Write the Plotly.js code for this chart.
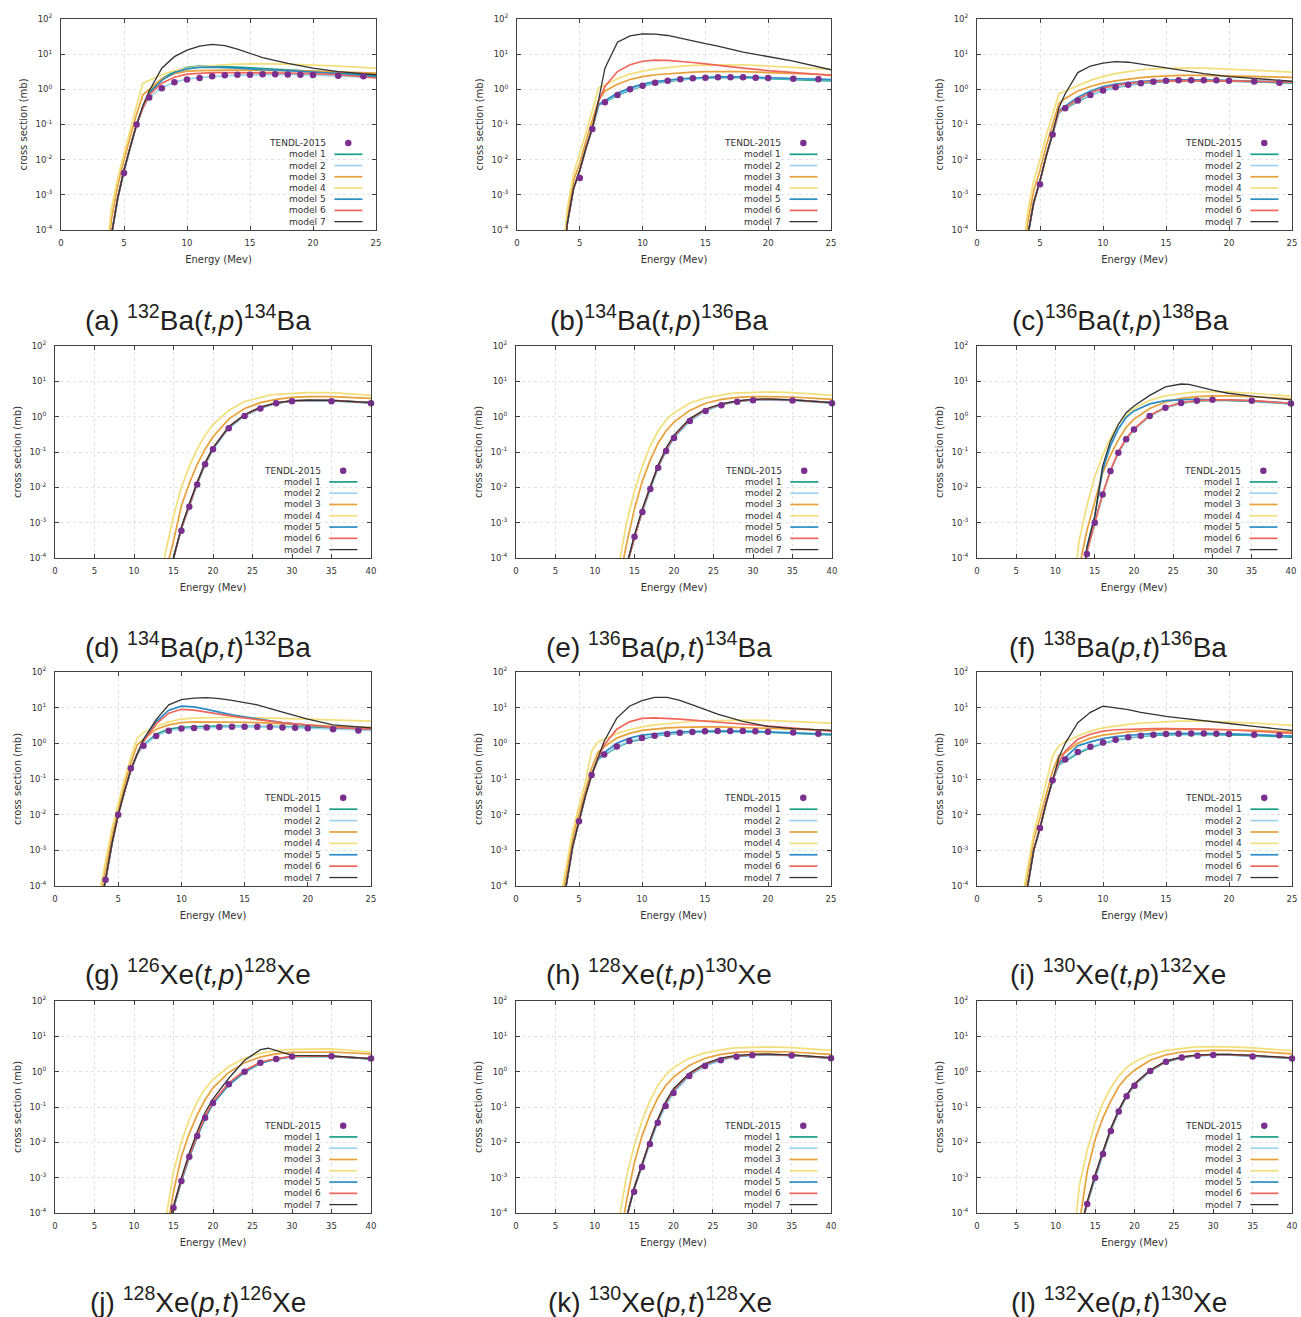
<!DOCTYPE html>
<html><head><meta charset="utf-8">
<script src="https://cdn.plot.ly/plotly-3.0.1.min.js"></script>
<style>html,body{margin:0;padding:0;background:#fff;}#chart{width:1301px;height:1317px;}</style>
</head><body><div id="chart"></div>
<script>
// ---------- shared grids / labels ----------
const E_TP = [3.5,4,4.5,5,5.5,6,6.5,7,8,9,10,11,12,13,14,15,16,18,20,22,25];
const E_PT = [12,13,14,15,16,17,18,19,20,22,24,26,27,28,30,32,35,40];
const TENDL_E_TP = [4,5,6,7,8,9,10,11,12,13,14,15,16,17,18,19,20,22,24];
const TENDL_E_PT = [14,15,16,17,18,19,20,22,24,26,28,30,35,40];
const SERIES_NAMES = ['TENDL-2015','model 1','model 2','model 3','model 4','model 5','model 6','model 7'];
const Y_TICK_VALUES = [1e-4,1e-3,1e-2,1e-1,1,10,100];
const Y_TICK_LABELS = ['10<sup>-4</sup>','10<sup>-3</sup>','10<sup>-2</sup>','10<sup>-1</sup>','10<sup>0</sup>','10<sup>1</sup>','10<sup>2</sup>'];
const X_TICKS_TP = [0,5,10,15,20,25];
const X_TICKS_PT = [0,5,10,15,20,25,30,35,40];
const CAPTIONS = [
 '(a) <sup>132</sup>Ba(<i>t,p</i>)<sup>134</sup>Ba',
 '(b)<sup>134</sup>Ba(<i>t,p</i>)<sup>136</sup>Ba',
 '(c)<sup>136</sup>Ba(<i>t,p</i>)<sup>138</sup>Ba',
 '(d) <sup>134</sup>Ba(<i>p,t</i>)<sup>132</sup>Ba',
 '(e) <sup>136</sup>Ba(<i>p,t</i>)<sup>134</sup>Ba',
 '(f) <sup>138</sup>Ba(<i>p,t</i>)<sup>136</sup>Ba',
 '(g) <sup>126</sup>Xe(<i>t,p</i>)<sup>128</sup>Xe',
 '(h) <sup>128</sup>Xe(<i>t,p</i>)<sup>130</sup>Xe',
 '(i) <sup>130</sup>Xe(<i>t,p</i>)<sup>132</sup>Xe',
 '(j) <sup>128</sup>Xe(<i>p,t</i>)<sup>126</sup>Xe',
 '(k) <sup>130</sup>Xe(<i>p,t</i>)<sup>128</sup>Xe',
 '(l) <sup>132</sup>Xe(<i>p,t</i>)<sup>130</sup>Xe'
];

// ---------- (a) 132Ba(t,p)134Ba ----------
const a_m1 = [1e-6,7e-5,8e-4,5e-3,2.3e-2,0.1,0.3,0.8,2.0,3.2,4.2,4.6,4.6,4.5,4.3,4.1,3.9,3.6,3.3,3.0,2.4];
const a_m2 = [1e-6,7e-5,8e-4,4.5e-3,2.2e-2,0.1,0.28,0.6,1.1,1.6,1.95,2.15,2.35,2.45,2.55,2.6,2.65,2.65,2.55,2.45,2.2];
const a_m3 = [5e-6,2e-4,1.8e-3,1e-2,4.5e-2,0.2,0.7,1.0,2.0,2.8,3.3,3.4,3.5,3.5,3.5,3.5,3.5,3.4,3.3,3.1,2.9];
const a_m4 = [1e-5,4e-4,3e-3,1.5e-2,7e-2,0.35,1.5,1.8,2.6,3.4,4.0,4.4,4.8,5.0,5.2,5.3,5.3,5.2,5.0,4.6,4.0];
const a_m5 = [1e-6,7e-5,8e-4,5e-3,2.3e-2,0.1,0.3,0.75,1.8,3.0,3.8,4.2,4.3,4.2,4.0,3.8,3.6,3.4,3.1,2.8,2.3];
const a_m6 = [1e-6,7e-5,8e-4,5e-3,2.3e-2,0.1,0.3,0.7,1.5,2.2,2.7,2.9,3.0,3.0,3.0,3.0,3.0,2.9,2.8,2.6,2.1];
const a_m7 = [1e-6,7e-5,8e-4,5e-3,2.3e-2,0.1,0.35,0.9,4.0,8.5,13,17,19,17.5,14,10.5,8,5.5,4.0,3.2,2.6];
const a_tendl = [null,4.2e-3,0.1,0.59,1.07,1.58,1.9,2.1,2.35,2.5,2.6,2.6,2.67,2.7,2.65,2.6,2.55,2.45,2.35];

// ---------- (b) 134Ba(t,p)136Ba ----------
const b_m1 = [1e-6,1.5e-4,1.5e-3,5e-3,2.2e-2,0.08,0.35,0.43,0.68,0.95,1.25,1.5,1.7,1.85,2.0,2.1,2.15,2.15,2.05,1.95,1.75];
const b_m2 = [1e-6,1.5e-4,1.5e-3,5e-3,2.2e-2,0.08,0.36,0.45,0.72,1.0,1.3,1.55,1.75,1.9,2.05,2.15,2.2,2.2,2.1,2.0,1.85];
const b_m3 = [3e-6,2.5e-4,2.5e-3,8e-3,3.5e-2,0.13,0.5,0.9,1.4,1.9,2.3,2.6,2.8,3.0,3.1,3.2,3.2,3.2,3.0,2.8,2.6];
const b_m4 = [6e-6,4e-4,4e-3,1.5e-2,6e-2,0.25,1.1,1.3,2.0,2.7,3.3,3.8,4.2,4.5,4.8,4.9,5.0,5.0,4.6,4.2,3.7];
const b_m5 = [1e-6,1.5e-4,1.5e-3,5e-3,2.2e-2,0.08,0.37,0.48,0.78,1.1,1.4,1.65,1.85,2.0,2.1,2.2,2.25,2.25,2.15,2.05,1.9];
const b_m6 = [1e-6,1.5e-4,1.5e-3,5e-3,2.2e-2,0.08,0.45,1.2,3.2,5.0,6.3,6.8,6.7,6.3,5.8,5.3,4.9,4.0,3.4,3.0,2.5];
const b_m7 = [1e-6,1.5e-4,1.5e-3,5e-3,2.2e-2,0.08,0.5,4.0,22,33,38,37,34,28,24,20,17,11.5,8.5,6.3,3.6];
const b_tendl = [null,3e-3,0.075,0.43,0.69,1.0,1.27,1.55,1.76,1.92,2.05,2.15,2.2,2.2,2.2,2.15,2.1,2.0,1.92];

// ---------- (c) 136Ba(t,p)138Ba ----------
const c_m1 = [1e-6,6e-5,6e-4,2.5e-3,1.3e-2,0.055,0.22,0.28,0.45,0.68,0.92,1.12,1.32,1.48,1.6,1.68,1.72,1.72,1.7,1.62,1.5];
const c_m2 = [1e-6,6e-5,6e-4,2.5e-3,1.3e-2,0.055,0.23,0.29,0.48,0.69,0.92,1.14,1.36,1.5,1.65,1.76,1.8,1.8,1.76,1.68,1.55];
const c_m3 = [3e-6,1.5e-4,1.3e-3,5e-3,2.5e-2,0.1,0.4,0.55,0.9,1.2,1.5,1.75,1.95,2.15,2.3,2.4,2.5,2.5,2.4,2.3,2.2];
const c_m4 = [5e-6,3e-4,2.5e-3,1e-2,5e-2,0.2,0.75,0.9,1.3,1.8,2.3,2.8,3.2,3.6,3.8,3.9,4.0,4.0,3.7,3.5,3.1];
const c_m5 = [1e-6,6e-5,6e-4,2.5e-3,1.3e-2,0.055,0.25,0.33,0.6,0.9,1.2,1.42,1.58,1.7,1.78,1.82,1.85,1.85,1.8,1.72,1.6];
const c_m6 = [1e-6,6e-5,6e-4,2.5e-3,1.3e-2,0.055,0.24,0.3,0.52,0.8,1.08,1.3,1.48,1.6,1.7,1.75,1.78,1.78,1.75,1.68,1.6];
const c_m7 = [1e-6,6e-5,6e-4,2.5e-3,1.3e-2,0.055,0.3,0.75,3.0,4.6,5.6,6.1,5.9,5.2,4.6,4.0,3.5,2.8,2.3,2.0,1.7];
const c_tendl = [null,2e-3,0.052,0.29,0.48,0.69,0.92,1.14,1.36,1.5,1.65,1.76,1.8,1.8,1.8,1.8,1.76,1.68,1.55];

// ---------- (d) 134Ba(p,t)132Ba ----------
const d_m1 = [1e-7,1e-6,1e-5,1e-4,7e-4,3.2e-3,1.3e-2,4.5e-2,0.12,0.5,1.1,1.8,2.1,2.4,2.75,2.85,2.85,2.45];
const d_m2 = [1e-7,1e-6,1e-5,1e-4,6.5e-4,3e-3,1.2e-2,4.5e-2,0.12,0.47,1.04,1.7,2.05,2.4,2.75,2.8,2.75,2.4];
const d_m3 = [1e-7,2e-6,4e-5,3e-4,3e-3,1.3e-2,4.5e-2,0.12,0.27,0.85,1.7,2.5,2.8,3.1,3.5,3.7,3.7,3.3];
const d_m4 = [1e-6,1e-5,1.5e-4,1.5e-3,1e-2,4e-2,0.12,0.3,0.6,1.5,2.7,3.6,4.0,4.3,4.6,4.8,4.8,4.0];
const d_m5 = [1e-7,1e-6,1e-5,1e-4,7e-4,3.2e-3,1.3e-2,4.6e-2,0.125,0.5,1.1,1.8,2.1,2.4,2.8,2.9,2.9,2.5];
const d_m6 = [1e-7,1e-6,1e-5,1e-4,7e-4,3.3e-3,1.35e-2,4.7e-2,0.13,0.52,1.12,1.82,2.15,2.45,2.8,2.9,2.9,2.5];
const d_m7 = [1e-7,1e-6,1e-5,1e-4,7.5e-4,3.5e-3,1.4e-2,5e-2,0.13,0.52,1.15,1.85,2.15,2.45,2.85,2.95,2.9,2.5];
const d_tendl = [null,null,5.9e-4,2.8e-3,1.2e-2,4.5e-2,0.12,0.47,1.04,1.7,2.4,2.75,2.75,2.4];

// ---------- (e) 136Ba(p,t)134Ba ----------
const e_m1 = [1e-7,5e-6,6e-5,4e-4,2.2e-3,1e-2,3.8e-2,0.11,0.26,0.8,1.55,2.2,2.45,2.7,3.0,3.05,2.95,2.45];
const e_m2 = [1e-7,5e-6,6e-5,4e-4,2.0e-3,9e-3,3.6e-2,0.107,0.25,0.75,1.45,2.1,2.4,2.65,2.9,2.95,2.85,2.4];
const e_m3 = [1e-7,2e-5,2.5e-4,2.5e-3,1.5e-2,6e-2,0.18,0.4,0.7,1.5,2.4,3.1,3.3,3.5,3.7,3.7,3.6,3.1];
const e_m4 = [1e-6,6e-5,1e-3,8e-3,4e-2,0.15,0.4,0.8,1.3,2.4,3.4,4.2,4.5,4.7,4.9,5.0,4.8,4.0];
const e_m5 = [1e-7,5e-6,6e-5,4e-4,2.2e-3,1e-2,3.9e-2,0.115,0.27,0.82,1.58,2.25,2.5,2.75,3.05,3.1,3.0,2.5];
const e_m6 = [1e-7,5e-6,6e-5,4e-4,2.3e-3,1.05e-2,4e-2,0.12,0.28,0.84,1.6,2.25,2.5,2.75,3.05,3.1,3.0,2.5];
const e_m7 = [1e-7,5e-6,6e-5,4.5e-4,2.5e-3,1.1e-2,4.3e-2,0.13,0.3,0.88,1.65,2.3,2.55,2.8,3.1,3.15,3.0,2.5];
const e_tendl = [null,4e-4,2e-3,9e-3,3.6e-2,0.107,0.25,0.75,1.45,2.1,2.65,2.9,2.85,2.4];

// ---------- (f) 138Ba(p,t)136Ba ----------
const f_m1 = [1e-7,1e-6,1.5e-4,1e-3,6.3e-3,2.9e-2,9.5e-2,0.23,0.43,1.05,1.8,2.4,2.6,2.75,2.9,2.9,2.75,2.3];
const f_m2 = [1e-7,1e-6,1.5e-4,1e-3,6.3e-3,2.9e-2,9.5e-2,0.23,0.43,1.05,1.8,2.45,2.65,2.8,3.0,3.0,2.8,2.35];
const f_m3 = [1e-6,5e-5,6e-4,4e-3,2.5e-2,8e-2,0.22,0.5,0.85,1.7,2.6,3.3,3.5,3.7,3.9,3.9,3.7,3.2];
const f_m4 = [3e-6,3e-4,3e-3,2e-2,8e-2,0.25,0.6,1.1,1.7,2.9,3.9,4.6,4.8,5.0,5.1,5.0,4.6,3.8];
const f_m5 = [1e-7,2e-6,2e-4,1.5e-3,3e-2,0.15,0.45,0.95,1.45,2.3,2.85,3.05,3.1,3.1,3.0,2.95,2.8,2.4];
const f_m6 = [1e-7,1e-6,1.5e-4,1e-3,6.5e-3,3e-2,0.1,0.24,0.45,1.08,1.85,2.5,2.7,2.85,3.0,3.0,2.85,2.4];
const f_m7 = [1e-7,2e-6,2e-4,1.5e-3,4e-2,0.2,0.6,1.3,2.0,4.0,7.0,8.4,8.2,7.2,5.6,4.6,3.8,3.0];
const f_tendl = [1.3e-4,1e-3,6.3e-3,2.9e-2,0.095,0.23,0.43,1.05,1.8,2.45,2.8,3.0,2.8,2.35];

// ---------- (g) 126Xe(t,p)128Xe ----------
const g_m1 = [2e-5,1.5e-4,1.5e-3,1e-2,4.5e-2,0.18,0.5,0.9,1.8,2.5,2.8,2.95,3.0,3.05,3.05,3.05,3.0,2.95,2.8,2.6,2.4];
const g_m2 = [2e-5,1.5e-4,1.5e-3,1e-2,4.5e-2,0.18,0.48,0.85,1.6,2.25,2.6,2.7,2.8,2.85,2.9,2.9,2.9,2.85,2.65,2.5,2.3];
const g_m3 = [4e-5,3e-4,2.5e-3,1.4e-2,7e-2,0.28,0.9,1.3,2.5,3.3,3.8,4.0,4.0,4.0,3.9,3.9,3.8,3.6,3.3,3.0,2.8];
const g_m4 = [6e-5,5e-4,4e-3,2e-2,0.1,0.4,1.4,2.0,3.0,4.0,4.8,5.1,5.3,5.3,5.3,5.3,5.2,5.0,4.8,4.5,4.2];
const g_m5 = [2e-5,1.5e-4,1.5e-3,1e-2,4.5e-2,0.18,0.5,1.2,4.0,8.5,11,10.5,9,7.5,6.3,5.5,4.8,3.8,3.2,2.8,2.5];
const g_m6 = [2e-5,1.5e-4,1.5e-3,1e-2,4.5e-2,0.18,0.5,1.1,3.5,7.0,9.0,8.5,7.5,6.5,5.8,5.2,4.6,3.8,3.2,2.8,2.5];
const g_m7 = [2e-5,1.5e-4,1.5e-3,1e-2,4.5e-2,0.18,0.5,1.3,4.6,12,16.7,18.5,19,18,16,14,12,7.5,4.8,3.3,2.7];
const g_tendl = [1.5e-4,1.0e-2,0.2,0.85,1.6,2.25,2.6,2.7,2.8,2.85,2.9,2.9,2.9,2.85,2.8,2.75,2.65,2.5,2.3];

// ---------- (h) 128Xe(t,p)130Xe ----------
const h_m1 = [1e-5,1.3e-4,1.3e-3,6.5e-3,3.3e-2,0.13,0.35,0.47,0.78,1.1,1.35,1.6,1.8,1.95,2.05,2.12,2.15,2.12,2.05,1.92,1.72];
const h_m2 = [1e-5,1.3e-4,1.3e-3,6.5e-3,3.3e-2,0.13,0.36,0.49,0.81,1.16,1.4,1.64,1.83,1.99,2.08,2.17,2.2,2.2,2.12,2.0,1.8];
const h_m3 = [2.5e-5,2.5e-4,2.2e-3,1.1e-2,5e-2,0.2,0.55,0.8,1.4,1.9,2.3,2.5,2.7,2.8,2.9,2.9,2.9,2.8,2.7,2.5,2.3];
const h_m4 = [4e-5,4e-4,3.5e-3,1.8e-2,8e-2,0.6,1.1,1.3,1.9,2.4,2.9,3.3,3.6,3.9,4.1,4.3,4.4,4.5,4.4,4.1,3.7];
const h_m5 = [1e-5,1.3e-4,1.3e-3,6.5e-3,3.3e-2,0.13,0.37,0.55,1.0,1.4,1.7,1.85,2.0,2.1,2.15,2.2,2.2,2.2,2.1,2.0,1.8];
const h_m6 = [1e-5,1.3e-4,1.3e-3,6.5e-3,3.3e-2,0.13,0.38,0.9,2.5,4.0,5.0,5.2,5.1,4.8,4.5,4.2,3.9,3.4,3.0,2.6,2.2];
const h_m7 = [1e-5,1.3e-4,1.3e-3,6.5e-3,3.3e-2,0.13,0.4,1.15,5.1,11,15.7,19.5,19.5,16,12,8.8,6.6,4.1,3.0,2.6,2.3];
const h_tendl = [null,6.5e-3,0.13,0.49,0.81,1.16,1.4,1.64,1.83,1.99,2.08,2.17,2.2,2.2,2.2,2.17,2.12,2.0,1.87];

// ---------- (i) 130Xe(t,p)132Xe ----------
const i_m1 = [8e-6,1e-4,1e-3,4.2e-3,2.2e-2,0.092,0.25,0.32,0.52,0.75,1.0,1.22,1.42,1.58,1.68,1.75,1.78,1.78,1.74,1.66,1.5];
const i_m2 = [8e-6,1e-4,1e-3,4.2e-3,2.2e-2,0.092,0.26,0.34,0.57,0.8,1.05,1.27,1.47,1.64,1.75,1.83,1.87,1.88,1.83,1.75,1.6];
const i_m3 = [2e-5,2e-4,2e-3,8e-3,4e-2,0.17,0.45,0.55,1.0,1.4,1.7,1.9,2.1,2.25,2.4,2.45,2.5,2.5,2.4,2.3,2.1];
const i_m4 = [3e-5,3e-4,3e-3,1.5e-2,8e-2,0.45,0.85,1.1,1.6,2.2,2.7,3.1,3.4,3.7,3.9,4.1,4.2,4.2,4.0,3.7,3.2];
const i_m5 = [8e-6,1e-4,1e-3,4.2e-3,2.2e-2,0.092,0.27,0.4,0.85,1.1,1.35,1.55,1.7,1.8,1.87,1.9,1.9,1.9,1.85,1.75,1.6];
const i_m6 = [8e-6,1e-4,1e-3,4.2e-3,2.2e-2,0.092,0.3,0.6,1.3,1.8,2.2,2.4,2.5,2.55,2.6,2.6,2.6,2.5,2.4,2.2,1.9];
const i_m7 = [8e-6,1e-4,1e-3,4.2e-3,2.2e-2,0.092,0.4,1.0,3.8,7.4,11,9.8,8.8,7.4,6.4,5.7,5.2,4.4,3.6,3.0,2.3];
const i_tendl = [null,4.2e-3,0.092,0.355,0.57,0.8,1.05,1.27,1.47,1.64,1.75,1.83,1.87,1.9,1.88,1.87,1.83,1.75,1.68];

// ---------- (j) 128Xe(p,t)126Xe ----------
const j_m1 = [1e-7,1e-6,3e-5,1.4e-4,8e-4,3.9e-3,1.5e-2,5e-2,0.13,0.44,1.0,1.75,2.0,2.25,2.65,2.75,2.7,2.3];
const j_m2 = [1e-7,1e-6,3e-5,1.4e-4,8e-4,3.9e-3,1.5e-2,5e-2,0.13,0.44,1.0,1.8,2.05,2.3,2.7,2.8,2.75,2.35];
const j_m3 = [1e-7,1e-6,2e-5,4e-4,4e-3,1.8e-2,6e-2,0.16,0.35,0.95,1.8,2.6,2.9,3.2,3.5,3.6,3.6,3.2];
const j_m4 = [1e-7,3e-6,6e-5,1.5e-3,1e-2,4.5e-2,0.14,0.33,0.6,1.4,2.4,3.3,3.7,4.0,4.3,4.4,4.4,3.6];
const j_m5 = [1e-7,1e-6,3e-5,1.4e-4,8e-4,3.8e-3,1.45e-2,4.8e-2,0.125,0.42,0.98,1.75,2.0,2.25,2.65,2.75,2.7,2.3];
const j_m6 = [1e-7,1e-6,3e-5,1.5e-4,9e-4,4.2e-3,1.6e-2,5.5e-2,0.14,0.48,1.08,1.85,2.1,2.35,2.7,2.8,2.75,2.35];
const j_m7 = [1e-7,1e-6,3e-5,1.5e-4,1e-3,5e-3,2e-2,7e-2,0.17,0.65,2.1,4.2,4.6,4.0,2.9,2.85,2.8,2.35];
const j_tendl = [null,1.4e-4,8e-4,3.9e-3,1.5e-2,0.05,0.13,0.44,1.0,1.8,2.3,2.7,2.75,2.35];

// ---------- (k) 130Xe(p,t)128Xe ----------
const k_m1 = [1e-7,3e-6,7e-5,5e-4,2.3e-3,1e-2,4e-2,0.12,0.28,0.8,1.55,2.2,2.45,2.7,3.0,3.05,2.9,2.4];
const k_m2 = [1e-7,3e-6,7e-5,4.5e-4,2.1e-3,9e-3,3.6e-2,0.107,0.25,0.75,1.45,2.1,2.4,2.65,2.9,2.95,2.85,2.4];
const k_m3 = [1e-7,1e-5,2e-4,2.5e-3,1.5e-2,6e-2,0.18,0.4,0.7,1.5,2.4,3.1,3.3,3.5,3.7,3.7,3.6,3.1];
const k_m4 = [1e-6,5e-5,1e-3,8e-3,4e-2,0.15,0.4,0.8,1.3,2.4,3.4,4.2,4.5,4.7,4.9,5.0,4.8,4.0];
const k_m5 = [1e-7,3e-6,7e-5,5e-4,2.4e-3,1.05e-2,4.1e-2,0.125,0.29,0.82,1.58,2.22,2.48,2.72,3.0,3.05,2.9,2.4];
const k_m6 = [1e-7,3e-6,7e-5,5e-4,2.5e-3,1.1e-2,4.3e-2,0.13,0.3,0.85,1.62,2.28,2.52,2.78,3.05,3.1,2.95,2.45];
const k_m7 = [1e-7,3e-6,7e-5,5e-4,2.5e-3,1.1e-2,4.5e-2,0.14,0.33,0.9,1.7,2.4,2.65,2.9,3.1,3.15,3.0,2.5];
const k_tendl = [null,4e-4,2e-3,9e-3,3.6e-2,0.107,0.25,0.75,1.45,2.1,2.65,2.9,2.85,2.4];

// ---------- (l) 132Xe(p,t)130Xe ----------
const l_m1 = [1e-7,2.5e-5,2e-4,1.1e-3,5e-3,2.2e-2,7.5e-2,0.2,0.42,1.05,1.9,2.5,2.7,2.85,3.0,3.0,2.8,2.4];
const l_m2 = [1e-7,2.5e-5,1.8e-4,1e-3,4.7e-3,2.1e-2,7.4e-2,0.2,0.4,1.04,1.9,2.5,2.65,2.8,2.95,2.95,2.7,2.35];
const l_m3 = [1e-6,5e-5,1.5e-3,1.2e-2,5e-2,0.15,0.38,0.7,1.1,2.1,3.0,3.6,3.75,3.9,4.0,4.0,3.8,3.2];
const l_m4 = [4e-6,6e-4,6e-3,3.5e-2,0.13,0.35,0.75,1.3,1.9,3.0,4.0,4.6,4.8,5.0,5.1,5.0,4.7,3.9];
const l_m5 = [1e-7,2.5e-5,2e-4,1.1e-3,5.2e-3,2.3e-2,7.7e-2,0.21,0.43,1.07,1.92,2.52,2.72,2.88,3.02,3.02,2.8,2.4];
const l_m6 = [1e-7,2.5e-5,2e-4,1.15e-3,5.4e-3,2.4e-2,8e-2,0.21,0.44,1.1,1.95,2.55,2.75,2.9,3.05,3.05,2.85,2.45];
const l_m7 = [1e-7,2.5e-5,2.1e-4,1.2e-3,5.6e-3,2.5e-2,8.3e-2,0.22,0.46,1.12,2.0,2.6,2.8,2.95,3.1,3.1,2.9,2.45];
const l_tendl = [1.8e-4,1e-3,4.7e-3,2.1e-2,7.4e-2,0.2,0.4,1.04,1.9,2.5,2.8,2.95,2.7,2.35];

// ---------- styling & layout (not data) ----------
const W = 1301, H = 1317;
const MODEL_COLORS = ['#1a9e86','#9dd3f0','#e8a038','#f3df7a','#2b8cc4','#f0665a','#333333'];
const TENDL_COLOR = '#7a2e8e';
const TXT = '#333333';
const PANELS = [
 {kind:'tp', px:[61,376],  py:[19,230],   cap:[198,318],  s:[a_m1,a_m2,a_m3,a_m4,a_m5,a_m6,a_m7], t:a_tendl},
 {kind:'tp', px:[517,831], py:[19,230],   cap:[659,318],  s:[b_m1,b_m2,b_m3,b_m4,b_m5,b_m6,b_m7], t:b_tendl},
 {kind:'tp', px:[977,1292],py:[19,230],   cap:[1120,318], s:[c_m1,c_m2,c_m3,c_m4,c_m5,c_m6,c_m7], t:c_tendl},
 {kind:'pt', px:[55,371],  py:[346,558],  cap:[198,645],  s:[d_m1,d_m2,d_m3,d_m4,d_m5,d_m6,d_m7], t:d_tendl},
 {kind:'pt', px:[516,832], py:[346,558],  cap:[659,645],  s:[e_m1,e_m2,e_m3,e_m4,e_m5,e_m6,e_m7], t:e_tendl},
 {kind:'pt', px:[977,1291],py:[346,558],  cap:[1118,645], s:[f_m1,f_m2,f_m3,f_m4,f_m5,f_m6,f_m7], t:f_tendl},
 {kind:'tp', px:[55,371],  py:[672,886],  cap:[198,972],  s:[g_m1,g_m2,g_m3,g_m4,g_m5,g_m6,g_m7], t:g_tendl},
 {kind:'tp', px:[516,831], py:[672,886],  cap:[659,972],  s:[h_m1,h_m2,h_m3,h_m4,h_m5,h_m6,h_m7], t:h_tendl},
 {kind:'tp', px:[977,1292],py:[672,886],  cap:[1118,972], s:[i_m1,i_m2,i_m3,i_m4,i_m5,i_m6,i_m7], t:i_tendl},
 {kind:'pt', px:[55,371],  py:[1001,1213],cap:[198,1300], s:[j_m1,j_m2,j_m3,j_m4,j_m5,j_m6,j_m7], t:j_tendl},
 {kind:'pt', px:[516,831], py:[1001,1213],cap:[660,1300], s:[k_m1,k_m2,k_m3,k_m4,k_m5,k_m6,k_m7], t:k_tendl},
 {kind:'pt', px:[977,1292],py:[1001,1213],cap:[1119,1300],s:[l_m1,l_m2,l_m3,l_m4,l_m5,l_m6,l_m7], t:l_tendl}
];

const traces = [];
const layout = {
  width: W, height: H, margin: {l:0, r:0, t:0, b:0},
  paper_bgcolor: '#ffffff', plot_bgcolor: '#ffffff', showlegend: false,
  font: {family: 'DejaVu Sans, sans-serif', size: 9, color: TXT},
  annotations: [], shapes: []
};

PANELS.forEach((p, idx) => {
  const n = idx + 1;
  const xa = n === 1 ? 'x' : 'x' + n;
  const ya = n === 1 ? 'y' : 'y' + n;
  const E = p.kind === 'tp' ? E_TP : E_PT;
  const TE = p.kind === 'tp' ? TENDL_E_TP : TENDL_E_PT;

  p.s.forEach((ys, j) => {
    traces.push({type:'scatter', mode:'lines', x:E, y:ys, xaxis:xa, yaxis:ya,
      name: SERIES_NAMES[j+1], hoverinfo:'x+y+name',
      line:{color:MODEL_COLORS[j], width: j === 6 ? 1.3 : 1.7}});
  });
  traces.push({type:'scatter', mode:'markers', x:TE, y:p.t, xaxis:xa, yaxis:ya,
    name: SERIES_NAMES[0], cliponaxis:false,
    marker:{color:TENDL_COLOR, size:6.5, line:{width:0}}});

  const common = {
    showline:true, mirror:'allticks', linecolor:'#404040', linewidth:1,
    ticks:'inside', ticklen:4, tickcolor:'#404040',
    showgrid:true, gridcolor:'#e2e2e2', griddash:'dot', gridwidth:1,
    zeroline:false, tickfont:{size:8.5, color:TXT}, automargin:false, fixedrange:true
  };
  layout[n === 1 ? 'xaxis' : 'xaxis' + n] = Object.assign({}, common, {
    domain:[p.px[0]/W, p.px[1]/W], anchor:ya,
    range: p.kind === 'tp' ? [0,25] : [0,40],
    tickmode:'array', tickvals: p.kind === 'tp' ? X_TICKS_TP : X_TICKS_PT,
    ticktext: (p.kind === 'tp' ? X_TICKS_TP : X_TICKS_PT).map(String),
    ticklabelstandoff: 5,
    title:{text:'Energy (Mev)', font:{size:10, color:TXT}, standoff:8}
  });
  layout[n === 1 ? 'yaxis' : 'yaxis' + n] = Object.assign({}, common, {
    domain:[1 - p.py[1]/H, 1 - p.py[0]/H], anchor:xa,
    type:'log', range:[-4, 2],
    tickmode:'array', tickvals:Y_TICK_VALUES, ticktext:Y_TICK_LABELS,
    ticklabelstandoff: 6,
    title:{text:'cross section (mb)', font:{size:10, color:TXT}, standoff:6}
  });

  // in-plot key (gnuplot style: text, then sample)
  const xr = xa + ' domain', yr = ya + ' domain';
  SERIES_NAMES.forEach((nm, k) => {
    const yd = 0.412 - k * 0.0532;
    layout.annotations.push({xref:xr, yref:yr, x:0.848, y:yd, xanchor:'right', yanchor:'middle',
      text:nm, showarrow:false, font:{size:9, color:TXT}});
    if (k === 0) {
      layout.shapes.push({type:'circle', xref:xr, yref:yr,
        x0:0.912 - 0.0103, x1:0.912 + 0.0103, y0:yd - 0.0154, y1:yd + 0.0154,
        fillcolor:TENDL_COLOR, line:{width:0}});
    } else {
      layout.shapes.push({type:'line', xref:xr, yref:yr, x0:0.868, x1:0.957, y0:yd, y1:yd,
        line:{color:MODEL_COLORS[k-1], width: k === 7 ? 1.3 : 1.7}});
    }
  });

  layout.annotations.push({xref:'paper', yref:'paper', x:p.cap[0]/W, y:1 - p.cap[1]/H,
    xanchor:'center', yanchor:'middle', showarrow:false, text:CAPTIONS[idx],
    font:{family:'Liberation Sans, Arial, sans-serif', size:28, color:'#231f20'}});
});

Plotly.newPlot('chart', traces, layout, {displayModeBar:false, staticPlot:true});
</script>
</body></html>
